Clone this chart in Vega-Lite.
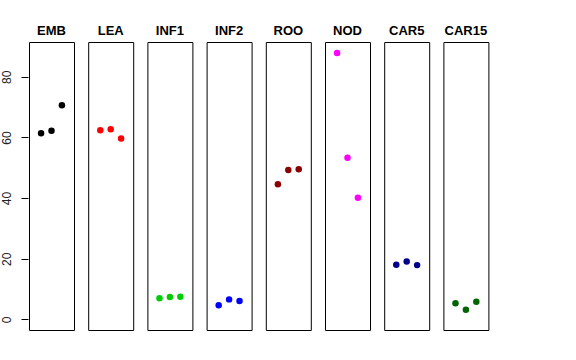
{
  "$schema": "https://vega.github.io/schema/vega-lite/v6.json",
  "autosize": {"type": "pad"},
  "padding": {"left": 0, "top": 25, "right": 5, "bottom": 5},
  "background": "white",
  "data": {
    "values": [
      {"panel": "EMB", "x": 1, "y": 61.4},
      {"panel": "EMB", "x": 2, "y": 62.2},
      {"panel": "EMB", "x": 3, "y": 70.6},
      {"panel": "LEA", "x": 1, "y": 62.4},
      {"panel": "LEA", "x": 2, "y": 62.7},
      {"panel": "LEA", "x": 3, "y": 59.7},
      {"panel": "INF1", "x": 1, "y": 7.0},
      {"panel": "INF1", "x": 2, "y": 7.4},
      {"panel": "INF1", "x": 3, "y": 7.5},
      {"panel": "INF2", "x": 1, "y": 4.7},
      {"panel": "INF2", "x": 2, "y": 6.6},
      {"panel": "INF2", "x": 3, "y": 6.1},
      {"panel": "ROO", "x": 1, "y": 44.6},
      {"panel": "ROO", "x": 2, "y": 49.3},
      {"panel": "ROO", "x": 3, "y": 49.5},
      {"panel": "NOD", "x": 1, "y": 87.9},
      {"panel": "NOD", "x": 2, "y": 53.3},
      {"panel": "NOD", "x": 3, "y": 40.1},
      {"panel": "CAR5", "x": 1, "y": 18.0},
      {"panel": "CAR5", "x": 2, "y": 19.1},
      {"panel": "CAR5", "x": 3, "y": 17.9},
      {"panel": "CAR15", "x": 1, "y": 5.3},
      {"panel": "CAR15", "x": 2, "y": 3.2},
      {"panel": "CAR15", "x": 3, "y": 5.8}
    ]
  },
  "facet": {
    "column": {
      "field": "panel",
      "type": "nominal",
      "sort": ["EMB", "LEA", "INF1", "INF2", "ROO", "NOD", "CAR5", "CAR15"],
      "header": {
        "title": null,
        "labelFont": "Liberation Sans",
        "labelFontWeight": "bold",
        "labelFontSize": 13,
        "labelColor": "black",
        "labelPadding": 3
      }
    }
  },
  "spacing": 12.2,
  "spec": {
    "width": 45,
    "height": 288,
    "mark": {"type": "circle", "size": 42, "opacity": 1},
    "encoding": {
      "x": {
        "field": "x",
        "type": "quantitative",
        "scale": {"domain": [-0.16, 4.16], "nice": false, "zero": false},
        "axis": null
      },
      "y": {
        "field": "y",
        "type": "quantitative",
        "scale": {"domain": [-3.5, 91.5], "nice": false, "zero": false},
        "axis": {
          "title": null,
          "values": [0, 20, 40, 60, 80],
          "grid": false,
          "domain": false,
          "tickColor": "black",
          "tickSize": 7,
          "labelAngle": -90,
          "labelFont": "Liberation Sans",
          "labelFontSize": 12,
          "labelColor": "#222",
          "labelPadding": 8
        }
      },
      "color": {
        "field": "panel",
        "type": "nominal",
        "scale": {
          "domain": ["EMB", "LEA", "INF1", "INF2", "ROO", "NOD", "CAR5", "CAR15"],
          "range": ["#000000", "#FF0000", "#00CD00", "#0000FF", "#8B0000", "#FF00FF", "#00008B", "#006400"]
        },
        "legend": null
      }
    }
  },
  "config": {
    "view": {"stroke": "black", "strokeWidth": 1}
  }
}
